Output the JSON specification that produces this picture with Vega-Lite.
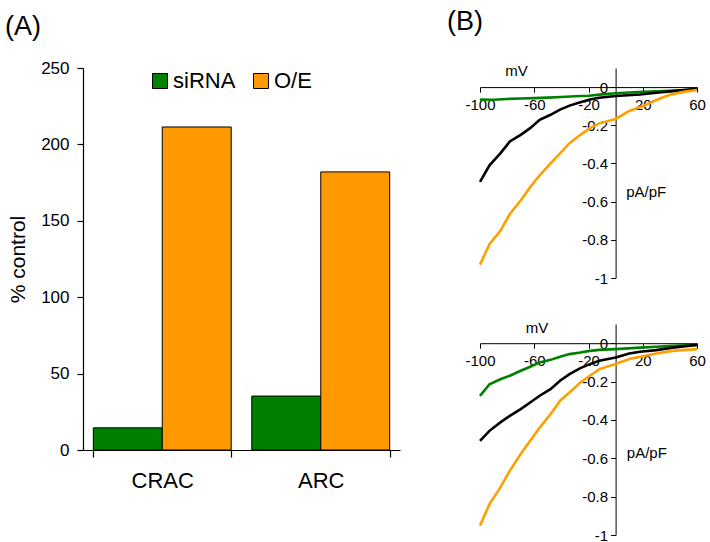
{
  "$schema": "https://vega.github.io/schema/vega-lite/v6.json",
  "padding": {"left": 5, "top": 8, "right": 5, "bottom": 5},
  "background": "white",
  "config": {
    "font": "Liberation Sans",
    "view": {"stroke": null},
    "axis": {"domainColor": "black", "tickColor": "black", "labelColor": "black", "titleColor": "black", "grid": false, "titleFontWeight": "normal"},
    "title": {"fontWeight": "normal", "color": "black"}
  },
  "datasets": {
    "bars": [
      {"channel": "CRAC", "group": "siRNA", "pct": 14.5},
      {"channel": "CRAC", "group": "O/E", "pct": 211.4},
      {"channel": "ARC", "group": "siRNA", "pct": 35.3},
      {"channel": "ARC", "group": "O/E", "pct": 182}
    ],
    "iv": [
      {"panel": "top", "trace": "siRNA", "V": -100, "I": -0.065},
      {"panel": "top", "trace": "siRNA", "V": -90, "I": -0.066},
      {"panel": "top", "trace": "siRNA", "V": -80, "I": -0.062},
      {"panel": "top", "trace": "siRNA", "V": -70, "I": -0.06},
      {"panel": "top", "trace": "siRNA", "V": -60, "I": -0.058},
      {"panel": "top", "trace": "siRNA", "V": -50, "I": -0.055},
      {"panel": "top", "trace": "siRNA", "V": -40, "I": -0.052},
      {"panel": "top", "trace": "siRNA", "V": -30, "I": -0.048},
      {"panel": "top", "trace": "siRNA", "V": -20, "I": -0.045},
      {"panel": "top", "trace": "siRNA", "V": -10, "I": -0.038},
      {"panel": "top", "trace": "siRNA", "V": 0, "I": -0.032},
      {"panel": "top", "trace": "siRNA", "V": 10, "I": -0.028},
      {"panel": "top", "trace": "siRNA", "V": 20, "I": -0.025},
      {"panel": "top", "trace": "siRNA", "V": 30, "I": -0.022},
      {"panel": "top", "trace": "siRNA", "V": 40, "I": -0.02},
      {"panel": "top", "trace": "siRNA", "V": 50, "I": -0.017},
      {"panel": "top", "trace": "siRNA", "V": 60, "I": -0.014},
      {"panel": "top", "trace": "control", "V": -100, "I": -0.497},
      {"panel": "top", "trace": "control", "V": -93, "I": -0.41},
      {"panel": "top", "trace": "control", "V": -85, "I": -0.347},
      {"panel": "top", "trace": "control", "V": -78, "I": -0.285},
      {"panel": "top", "trace": "control", "V": -70, "I": -0.25},
      {"panel": "top", "trace": "control", "V": -63, "I": -0.215},
      {"panel": "top", "trace": "control", "V": -56, "I": -0.171},
      {"panel": "top", "trace": "control", "V": -48, "I": -0.145},
      {"panel": "top", "trace": "control", "V": -41, "I": -0.118},
      {"panel": "top", "trace": "control", "V": -34, "I": -0.097},
      {"panel": "top", "trace": "control", "V": -26, "I": -0.079},
      {"panel": "top", "trace": "control", "V": -19, "I": -0.065},
      {"panel": "top", "trace": "control", "V": -12, "I": -0.056},
      {"panel": "top", "trace": "control", "V": 0, "I": -0.047},
      {"panel": "top", "trace": "control", "V": 18, "I": -0.039},
      {"panel": "top", "trace": "control", "V": 30, "I": -0.03},
      {"panel": "top", "trace": "control", "V": 42, "I": -0.021},
      {"panel": "top", "trace": "control", "V": 60, "I": -0.009},
      {"panel": "top", "trace": "O/E", "V": -100, "I": -0.93},
      {"panel": "top", "trace": "O/E", "V": -93, "I": -0.823},
      {"panel": "top", "trace": "O/E", "V": -85, "I": -0.753},
      {"panel": "top", "trace": "O/E", "V": -78, "I": -0.665},
      {"panel": "top", "trace": "O/E", "V": -70, "I": -0.594},
      {"panel": "top", "trace": "O/E", "V": -63, "I": -0.524},
      {"panel": "top", "trace": "O/E", "V": -56, "I": -0.462},
      {"panel": "top", "trace": "O/E", "V": -48, "I": -0.4},
      {"panel": "top", "trace": "O/E", "V": -41, "I": -0.347},
      {"panel": "top", "trace": "O/E", "V": -34, "I": -0.294},
      {"panel": "top", "trace": "O/E", "V": -26, "I": -0.25},
      {"panel": "top", "trace": "O/E", "V": -19, "I": -0.215},
      {"panel": "top", "trace": "O/E", "V": -12, "I": -0.19},
      {"panel": "top", "trace": "O/E", "V": 0, "I": -0.167},
      {"panel": "top", "trace": "O/E", "V": 10, "I": -0.125},
      {"panel": "top", "trace": "O/E", "V": 20, "I": -0.1},
      {"panel": "top", "trace": "O/E", "V": 30, "I": -0.068},
      {"panel": "top", "trace": "O/E", "V": 40, "I": -0.04},
      {"panel": "top", "trace": "O/E", "V": 50, "I": -0.025},
      {"panel": "top", "trace": "O/E", "V": 60, "I": -0.015},
      {"panel": "bottom", "trace": "siRNA", "V": -100, "I": -0.275},
      {"panel": "bottom", "trace": "siRNA", "V": -93, "I": -0.214},
      {"panel": "bottom", "trace": "siRNA", "V": -85, "I": -0.188},
      {"panel": "bottom", "trace": "siRNA", "V": -78, "I": -0.17},
      {"panel": "bottom", "trace": "siRNA", "V": -70, "I": -0.144},
      {"panel": "bottom", "trace": "siRNA", "V": -63, "I": -0.123},
      {"panel": "bottom", "trace": "siRNA", "V": -56, "I": -0.1},
      {"panel": "bottom", "trace": "siRNA", "V": -48, "I": -0.087},
      {"panel": "bottom", "trace": "siRNA", "V": -41, "I": -0.071},
      {"panel": "bottom", "trace": "siRNA", "V": -34, "I": -0.057},
      {"panel": "bottom", "trace": "siRNA", "V": -26, "I": -0.049},
      {"panel": "bottom", "trace": "siRNA", "V": -19, "I": -0.04},
      {"panel": "bottom", "trace": "siRNA", "V": -12, "I": -0.035},
      {"panel": "bottom", "trace": "siRNA", "V": 0, "I": -0.031},
      {"panel": "bottom", "trace": "siRNA", "V": 18, "I": -0.023},
      {"panel": "bottom", "trace": "siRNA", "V": 30, "I": -0.019},
      {"panel": "bottom", "trace": "siRNA", "V": 42, "I": -0.014},
      {"panel": "bottom", "trace": "siRNA", "V": 60, "I": -0.009},
      {"panel": "bottom", "trace": "control", "V": -100, "I": -0.509},
      {"panel": "bottom", "trace": "control", "V": -93, "I": -0.457},
      {"panel": "bottom", "trace": "control", "V": -85, "I": -0.413},
      {"panel": "bottom", "trace": "control", "V": -78, "I": -0.379},
      {"panel": "bottom", "trace": "control", "V": -70, "I": -0.344},
      {"panel": "bottom", "trace": "control", "V": -63, "I": -0.309},
      {"panel": "bottom", "trace": "control", "V": -56, "I": -0.274},
      {"panel": "bottom", "trace": "control", "V": -48, "I": -0.24},
      {"panel": "bottom", "trace": "control", "V": -41, "I": -0.196},
      {"panel": "bottom", "trace": "control", "V": -34, "I": -0.161},
      {"panel": "bottom", "trace": "control", "V": -26, "I": -0.13},
      {"panel": "bottom", "trace": "control", "V": -19, "I": -0.109},
      {"panel": "bottom", "trace": "control", "V": -12, "I": -0.092},
      {"panel": "bottom", "trace": "control", "V": 0, "I": -0.075},
      {"panel": "bottom", "trace": "control", "V": 10, "I": -0.054},
      {"panel": "bottom", "trace": "control", "V": 18, "I": -0.045},
      {"panel": "bottom", "trace": "control", "V": 30, "I": -0.036},
      {"panel": "bottom", "trace": "control", "V": 42, "I": -0.023},
      {"panel": "bottom", "trace": "control", "V": 60, "I": -0.009},
      {"panel": "bottom", "trace": "O/E", "V": -100, "I": -0.951},
      {"panel": "bottom", "trace": "O/E", "V": -93, "I": -0.839},
      {"panel": "bottom", "trace": "O/E", "V": -85, "I": -0.752},
      {"panel": "bottom", "trace": "O/E", "V": -78, "I": -0.665},
      {"panel": "bottom", "trace": "O/E", "V": -70, "I": -0.578},
      {"panel": "bottom", "trace": "O/E", "V": -63, "I": -0.509},
      {"panel": "bottom", "trace": "O/E", "V": -56, "I": -0.44},
      {"panel": "bottom", "trace": "O/E", "V": -48, "I": -0.37},
      {"panel": "bottom", "trace": "O/E", "V": -41, "I": -0.3},
      {"panel": "bottom", "trace": "O/E", "V": -34, "I": -0.257},
      {"panel": "bottom", "trace": "O/E", "V": -26, "I": -0.205},
      {"panel": "bottom", "trace": "O/E", "V": -19, "I": -0.17},
      {"panel": "bottom", "trace": "O/E", "V": -12, "I": -0.135},
      {"panel": "bottom", "trace": "O/E", "V": 0, "I": -0.109},
      {"panel": "bottom", "trace": "O/E", "V": 10, "I": -0.083},
      {"panel": "bottom", "trace": "O/E", "V": 18, "I": -0.071},
      {"panel": "bottom", "trace": "O/E", "V": 30, "I": -0.054},
      {"panel": "bottom", "trace": "O/E", "V": 42, "I": -0.04},
      {"panel": "bottom", "trace": "O/E", "V": 60, "I": -0.031}
    ],
    "labels": [
      {"panel": "top", "V": -73, "I": 0.083, "text": "mV"},
      {"panel": "top", "V": 22.5, "I": -0.55, "text": "pA/pF"},
      {"panel": "bottom", "V": -58, "I": 0.08, "text": "mV"},
      {"panel": "bottom", "V": 23, "I": -0.57, "text": "pA/pF"}
    ]
  },
  "bounds": "flush",
  "spacing": 80,
  "resolve": {"scale": {"color": "independent"}, "legend": {"color": "independent"}},
  "hconcat": [
    {
      "width": 317,
      "height": 382,
      "title": {"text": "(A)", "anchor": "start", "frame": "group", "fontSize": 27, "dx": -78, "offset": -3, "baseline": "alphabetic"},
      "data": {"name": "bars"},
      "mark": {"type": "bar", "stroke": "black", "strokeWidth": 1},
      "encoding": {
        "x": {
          "field": "channel", "type": "nominal", "sort": ["CRAC", "ARC"], "title": null,
          "scale": {"paddingInner": 0.13, "paddingOuter": 0.065},
          "axis": {"labelAngle": 0, "labelFontSize": 22, "tickBand": "extent", "tickSize": 7, "labelPadding": 13, "domainWidth": 1.2, "tickWidth": 1.2}
        },
        "xOffset": {"field": "group", "type": "nominal", "sort": ["siRNA", "O/E"], "scale": {"paddingInner": 0, "paddingOuter": 0}},
        "y": {
          "field": "pct", "type": "quantitative", "title": "% control",
          "scale": {"domain": [0, 250], "nice": false},
          "axis": {"values": [0, 50, 100, 150, 200, 250], "labelFontSize": 17, "titleFontSize": 21, "tickSize": 6, "labelPadding": 8, "titlePadding": 12, "domainWidth": 1.2, "tickWidth": 1.2}
        },
        "color": {
          "field": "group", "type": "nominal", "title": null,
          "scale": {"domain": ["siRNA", "O/E"], "range": ["#008000", "#FF9900"]},
          "legend": {"orient": "none", "legendX": 66, "legendY": 2, "direction": "horizontal", "columns": 2, "labelFontSize": 22, "symbolType": "square", "symbolSize": 225, "symbolStrokeColor": "black", "symbolStrokeWidth": 1, "symbolOpacity": 1, "columnPadding": 14, "labelOffset": 2, "labelColor": "black"}
        }
      }
    },
    {
      "bounds": "flush",
      "spacing": 46,
      "vconcat": [
        {
          "width": 217,
          "height": 210,
          "title": {"text": "(B)", "anchor": "start", "frame": "group", "fontSize": 27, "dx": -33, "offset": 7, "baseline": "alphabetic"},
          "layer": [
            {
              "data": {"name": "iv"},
              "transform": [{"filter": "datum.panel == 'top'"}],
              "mark": {"type": "line", "strokeWidth": 2.6},
              "encoding": {
                "x": {"field": "V", "type": "quantitative", "title": null, "scale": {"domain": [-100, 60], "nice": false, "zero": false},
                  "axis": {"orient": "bottom", "offset": -190.9, "values": [-100, -60, -20, 20, 60], "labelExpr": "datum.value + ''", "labelFontSize": 15, "tickSize": 5, "labelPadding": 5, "labelFlush": false, "labelOverlap": false}},
                "y": {"field": "I", "type": "quantitative", "title": null, "scale": {"domain": [-1, 0.1], "nice": false, "zero": false},
                  "axis": {"orient": "left", "offset": -135.6, "values": [0, -0.2, -0.4, -0.6, -0.8, -1], "labelExpr": "datum.value + ''", "labelFontSize": 15, "tickSize": 5, "labelPadding": 3, "labelOverlap": false}},
                "color": {"field": "trace", "type": "nominal", "scale": {"domain": ["siRNA", "control", "O/E"], "range": ["#008000", "#000000", "#FFA000"]}, "legend": null}
              }
            },
            {
              "data": {"name": "labels"},
              "transform": [{"filter": "datum.panel == 'top'"}],
              "mark": {"type": "text", "fontSize": 15, "align": "center", "baseline": "middle", "color": "black"},
              "encoding": {
                "x": {"field": "V", "type": "quantitative"},
                "y": {"field": "I", "type": "quantitative"},
                "text": {"field": "text"}
              }
            }
          ]
        },
        {
          "width": 217,
          "height": 211,
          "layer": [
            {
              "data": {"name": "iv"},
              "transform": [{"filter": "datum.panel == 'bottom'"}],
              "mark": {"type": "line", "strokeWidth": 2.6},
              "encoding": {
                "x": {"field": "V", "type": "quantitative", "title": null, "scale": {"domain": [-100, 60], "nice": false, "zero": false},
                  "axis": {"orient": "bottom", "offset": -191.8, "values": [-100, -60, -20, 20, 60], "labelExpr": "datum.value + ''", "labelFontSize": 15, "tickSize": 5, "labelPadding": 5, "labelFlush": false, "labelOverlap": false}},
                "y": {"field": "I", "type": "quantitative", "title": null, "scale": {"domain": [-1, 0.1], "nice": false, "zero": false},
                  "axis": {"orient": "left", "offset": -135.6, "values": [0, -0.2, -0.4, -0.6, -0.8, -1], "labelExpr": "datum.value + ''", "labelFontSize": 15, "tickSize": 5, "labelPadding": 3, "labelOverlap": false}},
                "color": {"field": "trace", "type": "nominal", "scale": {"domain": ["siRNA", "control", "O/E"], "range": ["#008000", "#000000", "#FFA000"]}, "legend": null}
              }
            },
            {
              "data": {"name": "labels"},
              "transform": [{"filter": "datum.panel == 'bottom'"}],
              "mark": {"type": "text", "fontSize": 15, "align": "center", "baseline": "middle", "color": "black"},
              "encoding": {
                "x": {"field": "V", "type": "quantitative"},
                "y": {"field": "I", "type": "quantitative"},
                "text": {"field": "text"}
              }
            }
          ]
        }
      ]
    }
  ]
}
